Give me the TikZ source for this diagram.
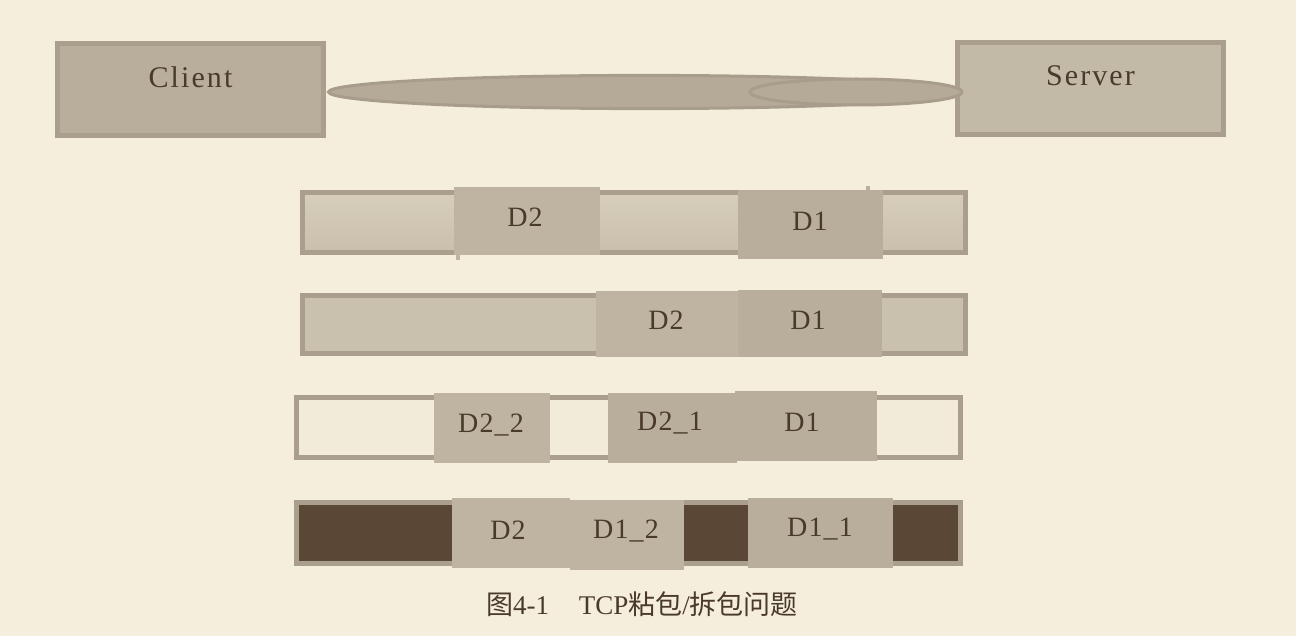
\documentclass[tikz,border=0pt]{standalone}
\usepackage{fontspec}
\setmainfont{Liberation Serif}
\newfontfamily\cjk{Noto Sans CJK SC}
\definecolor{paper}{HTML}{F5EEDC}
\definecolor{rim}{HTML}{AA9F8C}
\definecolor{blockA}{HTML}{BFB4A2}
\definecolor{blockB}{HTML}{B9AE9C}
\definecolor{pipe}{HTML}{B5AA98}
\definecolor{pipeline}{HTML}{A89D8A}
\definecolor{ink}{HTML}{4A3A2C}
\definecolor{topfill}{HTML}{D6CDBB}
\definecolor{botfill}{HTML}{CABFAC}
\definecolor{midfill}{HTML}{C9C0AE}
\definecolor{emptylight}{HTML}{F2EBDA}
\definecolor{emptydark}{HTML}{5A4735}
\begin{document}
\begin{tikzpicture}[x=0.5pt,y=-0.5pt,
    host/.style={draw=rim,line width=2.5pt,minimum width=133pt,minimum height=46pt,inner sep=0pt},
    hostlbl/.style={text=ink,font=\fontsize{15}{18}\selectfont\addfontfeature{LetterSpace=7}},
    bar/.style={draw=rim,line width=2.5pt},
    lbl/.style={text=ink,inner sep=0pt,font=\fontsize{14}{16}\selectfont\addfontfeature{LetterSpace=4}}]
    % Draw background
    \fill[paper] (0,0) rectangle (1296,636);

    % Draw client and server
    \node[host,fill=blockB] (client) at (190.5,90) {};
    \node[hostlbl] (clientlbl) at ([yshift=6.5pt]client.center) {Client};
    \node[host,fill=blockA!92!paper] (server) at (1090.5,89) {};
    \node[hostlbl] (serverlbl) at ([yshift=6.5pt]server.center) {Server};

    % Draw the pipe between them
    \draw[pipeline,fill=pipe,line width=1.5pt] (644.5,92) ellipse [x radius=158pt,y radius=8.3pt];
    \draw[pipeline,fill=pipe,line width=1.5pt] (856,92) ellipse [x radius=53pt,y radius=6.5pt];

    % Row 1: D2 and D1 apart
    \draw[bar,top color=topfill,bottom color=botfill] (302.5,192.5) rectangle (965.5,252.5);
    \fill[blockA] (454,187) rectangle (600,255);
    \fill[blockA] (456,255) rectangle (460,260);
    \fill[blockB] (738,190) rectangle (883,259);
    \fill[blockB] (866,186) rectangle (870,190);
    \node[lbl] (r1d2) at (525,217) {D2};
    \node[lbl] (r1d1) at (810,221) {D1};

    % Row 2: D2 and D1 stuck together
    \draw[bar,fill=midfill] (302.5,295.5) rectangle (965.5,353.5);
    \fill[blockA] (596,291) rectangle (738,357);
    \fill[blockB] (738,290) rectangle (882,357);
    \node[lbl] (r2d2) at (666,320) {D2};
    \node[lbl] (r2d1) at (808,320) {D1};

    % Row 3: D2 split
    \draw[bar,fill=emptylight] (296.5,397.5) rectangle (960.5,457.5);
    \fill[blockA] (434,393) rectangle (550,463);
    \fill[blockB] (608,393) rectangle (737,463);
    \fill[blockB] (735,391) rectangle (877,461);
    \node[lbl] (r3d22) at (491,425) {D2\_2};
    \node[lbl] (r3d21) at (670,423) {D2\_1};
    \node[lbl] (r3d1) at (802,422) {D1};

    % Row 4: D1 split
    \draw[bar,fill=emptydark] (296.5,502.5) rectangle (960.5,563.5);
    \fill[blockA] (452,498) rectangle (570,568);
    \fill[blockA] (570,500) rectangle (684,570);
    \fill[blockB] (748,498) rectangle (893,568);
    \node[lbl] (r4d2) at (508,530) {D2};
    \node[lbl] (r4d12) at (626,531) {D1\_2};
    \node[lbl] (r4d11) at (820,529) {D1\_1};

    % Add caption
    \node[text=ink,font=\fontsize{13.5}{16}\selectfont] (caption) at (642,604)
        {{\cjk 图}4-1\hspace{1.1em}TCP{\cjk 粘包}/{\cjk 拆包问题}};
\end{tikzpicture}
\end{document}
